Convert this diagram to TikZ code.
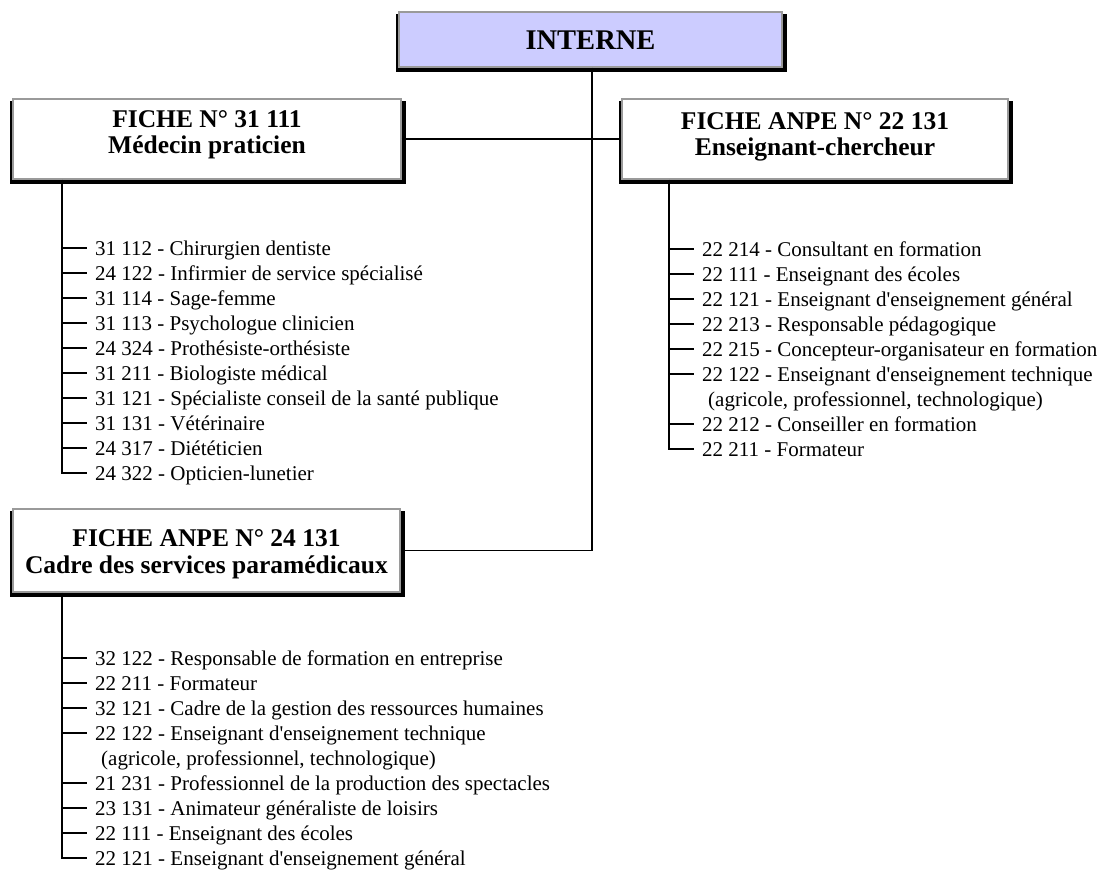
\documentclass[tikz,border=0pt]{standalone}
\usepackage{fontspec}
\setmainfont{Liberation Serif}
\usetikzlibrary{backgrounds}
\definecolor{lav}{HTML}{CCCCFF}
\definecolor{rim}{HTML}{9A9A9A}
\tikzset{
  box/.style={draw=rim, line width=1.2pt, fill=white, inner sep=0pt},
  title/.style={font=\bfseries\fontsize{25.5}{27}\selectfont, anchor=base, inner sep=0pt},
  bigtitle/.style={font=\bfseries\fontsize{28.5}{30}\selectfont, anchor=base, inner sep=0pt},
  item/.style={font=\fontsize{21}{25}\selectfont, anchor=west, inner sep=0pt, text height=16pt, text depth=2pt},
  conn/.style={line width=1.6pt},
  tree/.style={line width=1.6pt},
}
\newcommand{\shadowof}[1]{\fill[black] ([xshift=-2.5pt,yshift=-2.5pt]#1.north west) rectangle ([xshift=4.5pt,yshift=-4.5pt]#1.south east);}
\newcommand{\apo}{\textquotesingle}
\begin{document}
\begin{tikzpicture}[x=1pt,y=-1pt]
\useasboundingbox (0,0) rectangle (1106,876);
\begin{pgfonlayer}{background}
\fill[white] (0,0) rectangle (1106,876);
\end{pgfonlayer}

% boxes
\node[box, fill=lav, minimum width=383pt, minimum height=55pt] (int) at (590.5,39.5) {};
\node[box, minimum width=388pt, minimum height=80pt] (med) at (207,139) {};
\node[box, minimum width=386pt, minimum height=80pt] (ens) at (815,139) {};
\node[box, minimum width=387pt, minimum height=83pt] (cad) at (206.5,550.5) {};
\begin{pgfonlayer}{background}
\shadowof{int}
\shadowof{med}
\shadowof{ens}
\shadowof{cad}
\end{pgfonlayer}

% titles
\node[bigtitle] (intT) at (590.5,49) {INTERNE};
\node[title] (medA) at (207,127) {FICHE N° 31 111};
\node[title] (medB) at (207,153) {Médecin praticien};
\node[title] (ensA) at (815,129) {FICHE ANPE N° 22 131};
\node[title] (ensB) at (815,155) {Enseignant-chercheur};
\node[title] (cadA) at (206.5,546) {FICHE ANPE N° 24 131};
\node[title] (cadB) at (206.5,573) {Cadre des services paramédicaux};

% connectors between boxes
\coordinate (vx) at (592,0);
\draw[conn] (med.east) -- (ens.west);
\draw[conn] (int.south -| vx) |- (cad.east);

% list under Médecin praticien
\node[item] (m1) at (95,248) {31 112 - Chirurgien dentiste};
\node[item] (m2) at (95,273) {24 122 - Infirmier de service spécialisé};
\node[item] (m3) at (95,298) {31 114 - Sage-femme};
\node[item] (m4) at (95,323) {31 113 - Psychologue clinicien};
\node[item] (m5) at (95,348) {24 324 - Prothésiste-orthésiste};
\node[item] (m6) at (95,373) {31 211 - Biologiste médical};
\node[item] (m7) at (95,398) {31 121 - Spécialiste conseil de la santé publique};
\node[item] (m8) at (95,423) {31 131 - Vétérinaire};
\node[item] (m9) at (95,448) {24 317 - Diététicien};
\node[item] (m10) at (95,473) {24 322 - Opticien-lunetier};
\coordinate (mtr) at (62,0);
\draw[tree] (med.south -| mtr) |- ([xshift=-8pt]m10.west);
\foreach \i in {1,...,9} {\draw[tree] (m\i.west -| mtr) -- ([xshift=-8pt]m\i.west);}

% list under Enseignant-chercheur
\node[item] (e1) at (702,249) {22 214 - Consultant en formation};
\node[item] (e2) at (702,274) {22 111 - Enseignant des écoles};
\node[item] (e3) at (702,299) {22 121 - Enseignant d\apo enseignement général};
\node[item] (e4) at (702,324) {22 213 - Responsable pédagogique};
\node[item] (e5) at (702,349) {22 215 - Concepteur-organisateur en formation};
\node[item] (e6) at (702,374) {22 122 - Enseignant d\apo enseignement technique};
\node[item] (e6b) at (708,399) {(agricole, professionnel, technologique)};
\node[item] (e7) at (702,424) {22 212 - Conseiller en formation};
\node[item] (e8) at (702,449) {22 211 - Formateur};
\coordinate (etr) at (669,0);
\draw[tree] (ens.south -| etr) |- ([xshift=-8pt]e8.west);
\foreach \i in {1,...,7} {\draw[tree] (e\i.west -| etr) -- ([xshift=-8pt]e\i.west);}

% list under Cadre des services paramédicaux
\node[item] (c1) at (95,658) {32 122 - Responsable de formation en entreprise};
\node[item] (c2) at (95,683) {22 211 - Formateur};
\node[item] (c3) at (95,708) {32 121 - Cadre de la gestion des ressources humaines};
\node[item] (c4) at (95,733) {22 122 - Enseignant d\apo enseignement technique};
\node[item] (c4b) at (101,758) {(agricole, professionnel, technologique)};
\node[item] (c5) at (95,783) {21 231 - Professionnel de la production des spectacles};
\node[item] (c6) at (95,808) {23 131 - Animateur généraliste de loisirs};
\node[item] (c7) at (95,833) {22 111 - Enseignant des écoles};
\node[item] (c8) at (95,858) {22 121 - Enseignant d\apo enseignement général};
\coordinate (ctr) at (62,0);
\draw[tree] (cad.south -| ctr) |- ([xshift=-8pt]c8.west);
\foreach \i in {1,...,7} {\draw[tree] (c\i.west -| ctr) -- ([xshift=-8pt]c\i.west);}
\end{tikzpicture}
\end{document}
